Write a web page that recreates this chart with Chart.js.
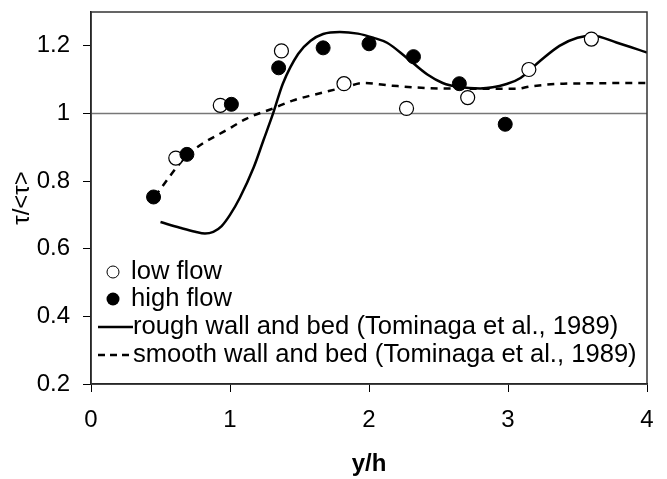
<!DOCTYPE html>
<html>
<head>
<meta charset="utf-8">
<script src="https://cdn.jsdelivr.net/npm/chart.js@4/dist/chart.umd.min.js"></script>
<style>
  body { margin: 0; background: #fff; }
  #wrap { width: 667px; height: 479px; position: relative; }
</style>
</head>
<body>
<div id="wrap"><canvas id="shear"></canvas></div>
<script>
// measured points
const lowX = [0.61, 0.93, 1.37, 1.82, 2.27, 2.71, 3.15, 3.60];
const lowY = [0.868, 1.024, 1.185, 1.088, 1.015, 1.047, 1.13, 1.22];
const highX = [0.45, 0.69, 1.01, 1.35, 1.67, 2.00, 2.32, 2.65, 2.98];
const highY = [0.753, 0.879, 1.027, 1.135, 1.194, 1.206, 1.168, 1.088, 0.968];

// Tominaga et al. (1989) curves
const roughX = [0.50, 0.64, 0.75, 0.82, 0.88, 0.94, 1.00, 1.07, 1.17, 1.24, 1.31, 1.38, 1.49, 1.58, 1.67, 1.79, 1.92, 2.03, 2.13, 2.27, 2.42, 2.53, 2.65, 2.80, 2.99, 3.09, 3.23, 3.37, 3.50, 3.61, 3.78, 4.00];
const roughY = [0.679, 0.662, 0.650, 0.645, 0.650, 0.667, 0.70, 0.75, 0.84, 0.92, 1.00, 1.088, 1.176, 1.215, 1.235, 1.241, 1.236, 1.224, 1.209, 1.165, 1.115, 1.09, 1.078, 1.074, 1.087, 1.105, 1.155, 1.20, 1.224, 1.23, 1.21, 1.18];
const smoothX = [0.46, 0.69, 1.01, 1.12, 1.31, 1.45, 1.67, 1.84, 1.96, 2.17, 2.51, 3.06, 3.16, 3.40, 4.00];
const smoothY = [0.755, 0.875, 0.959, 0.985, 1.015, 1.038, 1.062, 1.079, 1.09, 1.082, 1.074, 1.073, 1.08, 1.088, 1.09];

const refX = [0, 4];
const refY = [1, 1];

const yTicks = [0.2, 0.4, 0.6, 0.8, 1, 1.2];
const xTicks = [0, 1, 2, 3, 4];

const labels = [
  "low flow",
  "high flow",
  "rough wall and bed (Tominaga et al., 1989)",
  "smooth wall and bed (Tominaga et al., 1989)"
];

const pts = (xs, ys) => xs.map((x, i) => ({ x: x, y: ys[i] }));
const FONT = "'Liberation Sans', Arial, sans-serif";

// legend drawn inside the plot, like the original
const innerLegend = {
  id: "innerLegend",
  afterDatasetsDraw(chart) {
    const ctx = chart.ctx;
    const a = chart.chartArea;
    const rows = [272, 299, 327, 355];
    ctx.save();
    ctx.font = "25.6px " + FONT;
    ctx.fillStyle = "#000";
    ctx.textBaseline = "middle";
    // markers
    ctx.lineWidth = 1;
    ctx.strokeStyle = "#000";
    ctx.beginPath();
    ctx.arc(a.left + 22, rows[0], 6, 0, Math.PI * 2);
    ctx.fillStyle = "#fff";
    ctx.fill();
    ctx.stroke();
    ctx.beginPath();
    ctx.arc(a.left + 22, rows[1], 6.5, 0, Math.PI * 2);
    ctx.fillStyle = "#000";
    ctx.fill();
    // lines
    ctx.lineWidth = 2.5;
    ctx.beginPath();
    ctx.moveTo(a.left + 7, rows[2]);
    ctx.lineTo(a.left + 42, rows[2]);
    ctx.stroke();
    ctx.setLineDash([7, 5]);
    ctx.beginPath();
    ctx.moveTo(a.left + 7, rows[3]);
    ctx.lineTo(a.left + 42, rows[3]);
    ctx.stroke();
    ctx.setLineDash([]);
    ctx.fillText(labels[0], a.left + 40, rows[0]);
    ctx.fillText(labels[1], a.left + 40, rows[1]);
    ctx.fillText(labels[2], a.left + 42, rows[2]);
    ctx.fillText(labels[3], a.left + 42, rows[3]);
    // plot frame
    ctx.lineWidth = 1.5;
    ctx.strokeStyle = "#333";
    ctx.strokeRect(a.left, a.top, a.right - a.left, a.bottom - a.top);
    ctx.restore();
  }
};

const chart = new Chart(document.getElementById("shear"), {
  type: "scatter",
  data: {
    datasets: [
      {
        label: labels[1],
        data: pts(highX, highY),
        pointRadius: 7,
        pointBackgroundColor: "#000",
        pointBorderColor: "#000",
        pointBorderWidth: 1
      },
      {
        label: labels[0],
        data: pts(lowX, lowY),
        pointRadius: 7,
        pointBackgroundColor: "#fff",
        pointBorderColor: "#000",
        pointBorderWidth: 1.2
      },
      {
        label: labels[2],
        data: pts(roughX, roughY),
        showLine: true,
        pointRadius: 0,
        borderColor: "#000",
        borderWidth: 2.5,
        cubicInterpolationMode: "monotone"
      },
      {
        label: labels[3],
        data: pts(smoothX, smoothY),
        showLine: true,
        pointRadius: 0,
        borderColor: "#000",
        borderWidth: 2.5,
        borderDash: [7, 6],
        cubicInterpolationMode: "monotone"
      },
      {
        label: "ref",
        data: pts(refX, refY),
        showLine: true,
        pointRadius: 0,
        borderColor: "#777",
        borderWidth: 1.5
      }
    ]
  },
  options: {
    responsive: true,
    maintainAspectRatio: false,
    animation: false,
    layout: { padding: { top: 12, right: 20, left: 0, bottom: 0 } },
    plugins: {
      legend: { display: false },
      tooltip: { enabled: false }
    },
    scales: {
      x: {
        type: "linear",
        min: 0,
        max: 4,
        afterBuildTicks: (s) => { s.ticks = xTicks.map(v => ({ value: v })); },
        afterFit: (s) => { s.height = 95; s.paddingLeft = 0; s.paddingRight = 0; },
        grid: { drawOnChartArea: false, tickLength: 8, tickColor: "#000" },
        border: { color: "#000", width: 1.5 },
        ticks: { color: "#000", padding: 14, font: { size: 24, family: FONT } },
        title: {
          display: true,
          text: "y/h",
          color: "#000",
          padding: { top: 0, bottom: 0 },
          font: { size: 24, weight: "bold", family: FONT }
        }
      },
      y: {
        type: "linear",
        min: 0.2,
        max: 1.3,
        afterBuildTicks: (s) => { s.ticks = yTicks.map(v => ({ value: v })); },
        afterFit: (s) => { s.width = 91; s.paddingTop = 0; s.paddingBottom = 0; },
        grid: { drawOnChartArea: false, tickLength: 8, tickColor: "#000" },
        border: { color: "#000", width: 1.5 },
        ticks: {
          color: "#000",
          padding: 13,
          font: { size: 24, family: FONT },
          callback: (v) => String(Math.round(v * 10) / 10)
        },
        title: {
          display: true,
          text: "τ/<τ>",
          color: "#000",
          padding: { top: 8, bottom: 0 },
          font: { size: 24, family: FONT }
        }
      }
    }
  },
  plugins: [innerLegend]
});
</script>
</body>
</html>
